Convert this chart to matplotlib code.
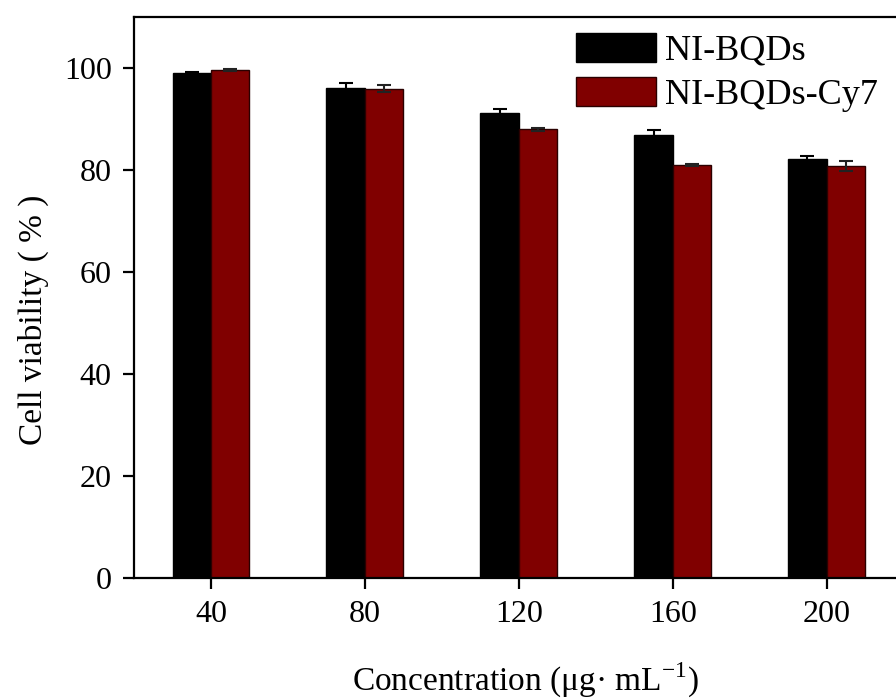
import numpy as np
import matplotlib
matplotlib.use("Agg")
import matplotlib.pyplot as plt

# data
concentrations = ["40", "80", "120", "160", "200"]
bqds = [99.1, 96.1, 91.2, 87.0, 82.2]
bqds_err = [0.3, 1.0, 0.9, 1.0, 0.7]
bqds_cy7 = [99.7, 96.0, 88.1, 81.0, 80.8]
bqds_cy7_err = [0.2, 0.7, 0.3, 0.2, 1.0]

plt.rcParams['font.family'] = ['Liberation Serif', 'DejaVu Serif']
plt.rcParams['mathtext.fontset'] = 'custom'
plt.rcParams['mathtext.rm'] = 'Liberation Serif'

fig = plt.figure(figsize=(8.96, 7.0), dpi=100)
# axes run slightly past the right edge, as in the cropped original
ax = fig.add_axes([0.1496, 0.174, 0.859, 0.801])

x = np.arange(len(concentrations))
w = 0.25
ax.bar(x - w / 2, bqds, w, color='black', edgecolor='black', linewidth=1,
       yerr=bqds_err, capsize=5, error_kw=dict(ecolor='black', elinewidth=1.5, capthick=1.5),
       label='NI-BQDs')
ax.bar(x + w / 2, bqds_cy7, w, color='#800000', edgecolor='#2a0000', linewidth=1,
       yerr=bqds_cy7_err, capsize=5, error_kw=dict(ecolor='#222222', elinewidth=1.5, capthick=1.5),
       label='NI-BQDs-Cy7')

ax.set_xlim(-0.5, 4.5)
ax.set_ylim(0, 110)
ax.set_yticks([0, 20, 40, 60, 80, 100])
ax.set_xticks(x)
ax.set_xticklabels(concentrations)

for s in ax.spines.values():
    s.set_linewidth(1.6)
ax.tick_params(direction='out', length=8, width=1.6, labelsize=23, pad=8)

ax.set_ylabel('Cell viability ( % )', fontsize=24)
ax.yaxis.set_label_coords(-0.110, 0.46)
ax.set_xlabel('Concentration (μg· mL$^{\\mathregular{-1}}$)', fontsize=24)
ax.xaxis.set_label_coords(0.509, -0.148)

ax.legend(loc='upper left', bbox_to_anchor=(0.643, 0.953), bbox_transform=fig.transFigure,
          frameon=False, fontsize=26, borderpad=0, borderaxespad=0,
          handlelength=2.2, handleheight=0.85, handletextpad=0.25, labelspacing=0.26)

fig.savefig('out.png', dpi=100)
